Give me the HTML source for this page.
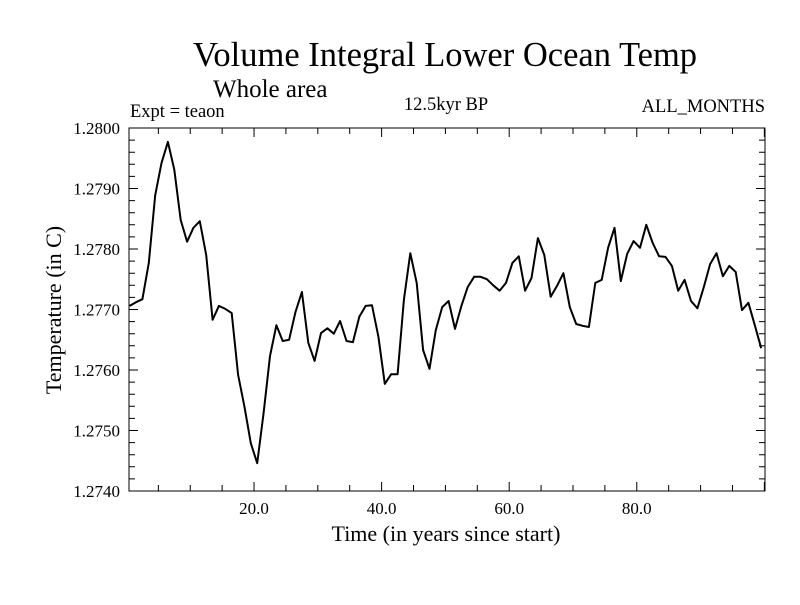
<!DOCTYPE html>
<html><head><meta charset="utf-8"><style>
body{margin:0;background:#fff;width:800px;height:600px;overflow:hidden}
text{font-family:"Liberation Serif",serif;fill:#000}
</style></head><body>
<svg id="chart" width="800" height="600">
<text x="445" y="66" font-size="34.5" text-anchor="middle">Volume Integral Lower Ocean Temp</text>
<text x="213" y="97" font-size="25">Whole area</text>
<text x="130" y="117" font-size="18.5">Expt = teaon</text>
<text x="446" y="110" font-size="18.5" text-anchor="middle">12.5kyr BP</text>
<text x="765" y="112" font-size="18.5" text-anchor="end">ALL_MONTHS</text>
<text x="446" y="541" font-size="22" text-anchor="middle">Time (in years since start)</text>
<text transform="translate(61,310) rotate(-90)" font-size="22" text-anchor="middle">Temperature (in C)</text>
<g id="axes"></g>
<path id="line" fill="none" stroke="#000" stroke-width="2" stroke-linejoin="round"/>
</svg>
<script>
const temps=[1.27706,1.27712,1.27717,1.27777,1.27889,1.27942,1.27977,1.27931,1.27848,1.27812,
1.27835,1.27846,1.27790,1.27683,1.27706,1.27701,1.27694,1.27592,1.27539,1.27479,
1.27446,1.27529,1.27623,1.27674,1.27648,1.27650,1.27696,1.27729,1.27645,1.27615,
1.27661,1.27669,1.27660,1.27681,1.27648,1.27646,1.27688,1.27706,1.27707,1.27655,
1.27577,1.27593,1.27593,1.27716,1.27793,1.27744,1.27633,1.27602,1.27666,1.27704,
1.27714,1.27668,1.27706,1.27737,1.27754,1.27754,1.27750,1.27740,1.27731,1.27744,
1.27777,1.27788,1.27731,1.27752,1.27818,1.27790,1.27721,1.27739,1.27760,1.27704,
1.27676,1.27673,1.27671,1.27744,1.27749,1.27802,1.27835,1.27747,1.27792,1.27813,
1.27802,1.27840,1.27810,1.27788,1.27787,1.27772,1.27731,1.27749,1.27714,1.27702,
1.27737,1.27775,1.27793,1.27755,1.27772,1.27762,1.27699,1.27711,1.27674,1.27636];
const years=temps.map((_,i)=>i+0.5);
const yTicks=["1.2740","1.2750","1.2760","1.2770","1.2780","1.2790","1.2800"];
const xTicks=["20.0","40.0","60.0","80.0"];
const L=129,R=765,T=128,B=491,X0=0.4,X1=100.1,Y0=1.274,Y1=1.28;
const sx=v=>L+(v-X0)/(X1-X0)*(R-L);
const sy=v=>B-(v-Y0)/(Y1-Y0)*(B-T);
const ns="http://www.w3.org/2000/svg";
const ax=document.getElementById('axes');
let d=`M${L} ${T}H${R}V${B}H${L}Z`;
for(let k=0;k<=30;k++){const v=Y0+k*0.0002,y=sy(v),len=(k%5==0)?9:6;d+=`M${L} ${y}h${len}M${R} ${y}h${-len}`;}
for(let yr=5;yr<X1;yr+=5){const x=sx(yr),len=(yr%20==0)?9:6;d+=`M${x} ${B}v${-len}M${x} ${T}v${len}`;}
const frame=document.createElementNS(ns,'path');
frame.setAttribute('d',d);frame.setAttribute('stroke','#000');frame.setAttribute('fill','none');frame.setAttribute('stroke-width','1');


ax.appendChild(frame);
yTicks.forEach(s=>{const t=document.createElementNS(ns,'text');
t.setAttribute('x',120);t.setAttribute('y',sy(parseFloat(s))+6);t.setAttribute('font-size','17');t.setAttribute('text-anchor','end');t.textContent=s;


ax.appendChild(t);});
xTicks.forEach(s=>{const t=document.createElementNS(ns,'text');
t.setAttribute('x',sx(parseFloat(s)));t.setAttribute('y',514);t.setAttribute('font-size','17');t.setAttribute('text-anchor','middle');t.textContent=s;


ax.appendChild(t);});
document.getElementById('line').setAttribute('d',temps.map((v,i)=>(i?'L':'M')+sx(years[i]).toFixed(1)+' '+sy(v).toFixed(1)).join(''));
</script>
</body></html>
